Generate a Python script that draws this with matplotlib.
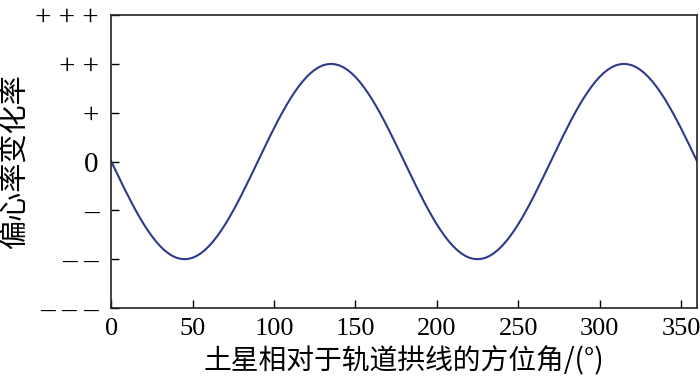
import matplotlib
matplotlib.use("Agg")
import matplotlib.pyplot as plt

# 方位角 (deg), 每 2.5° 读一个点
angles = [i * 2.5 for i in range(145)]
# 偏心率变化率 (相对刻度 -3..3): 0°-90° 的下凹段
dip = [0, -0.174, -0.347, -0.518, -0.684, -0.845, -1.0, -1.147, -1.286,
       -1.414, -1.532, -1.638, -1.732, -1.813, -1.879, -1.932, -1.970, -1.992,
       -2.0, -1.992, -1.970, -1.932, -1.879, -1.813, -1.732, -1.638, -1.532,
       -1.414, -1.286, -1.147, -1.0, -0.845, -0.684, -0.518, -0.347, -0.174]
# 90°-180° 的上凸段
hump = [0, 0.174, 0.347, 0.518, 0.684, 0.845, 1.0, 1.147, 1.286,
        1.414, 1.532, 1.638, 1.732, 1.813, 1.879, 1.932, 1.970, 1.992,
        2.0, 1.992, 1.970, 1.932, 1.879, 1.813, 1.732, 1.638, 1.532,
        1.414, 1.286, 1.147, 1.0, 0.845, 0.684, 0.518, 0.347, 0.174]
rates = dip + hump + dip + hump + [0]

x_ticks = [0, 50, 100, 150, 200, 250, 300, 350]
y_ticks = [-3, -2, -1, 0, 1, 2, 3]
y_labels = ["– – –", "– –", "–", "0", "+", "+ +", "+ + +"]

x_title = "土星相对于轨道拱线的方位角/(°)"
y_title = "偏心率变化率"

fonts = ["Liberation Serif", "Noto Sans CJK SC"]
cjk_fonts = ["Noto Sans CJK SC", "Liberation Serif"]

fig = plt.figure(figsize=(7, 3.86), dpi=100)
ax = fig.add_axes([0.159, 0.202, 0.837, 0.759])

ax.plot(angles, rates, color="#2e3a8a", linewidth=1.5)

ax.set_xlim(0, 360)
ax.set_ylim(-3, 3)
ax.set_xticks(x_ticks)
ax.set_yticks(y_ticks)
ax.set_yticklabels(y_labels)
ax.tick_params(direction="in", length=6, width=1)
ax.tick_params(axis="x", labelsize=19, pad=7)
ax.tick_params(axis="y", labelsize=21, pad=9)
for lab in ax.get_xticklabels() + ax.get_yticklabels():
    lab.set_family(fonts)

for sp in ax.spines.values():
    sp.set_linewidth(1.2)
    sp.set_color("#222222")

ax.set_xlabel(x_title, fontsize=20, family=cjk_fonts, labelpad=5)
ax.set_ylabel(y_title, fontsize=21, family=cjk_fonts, labelpad=4)

fig.savefig("out.png", dpi=100)
